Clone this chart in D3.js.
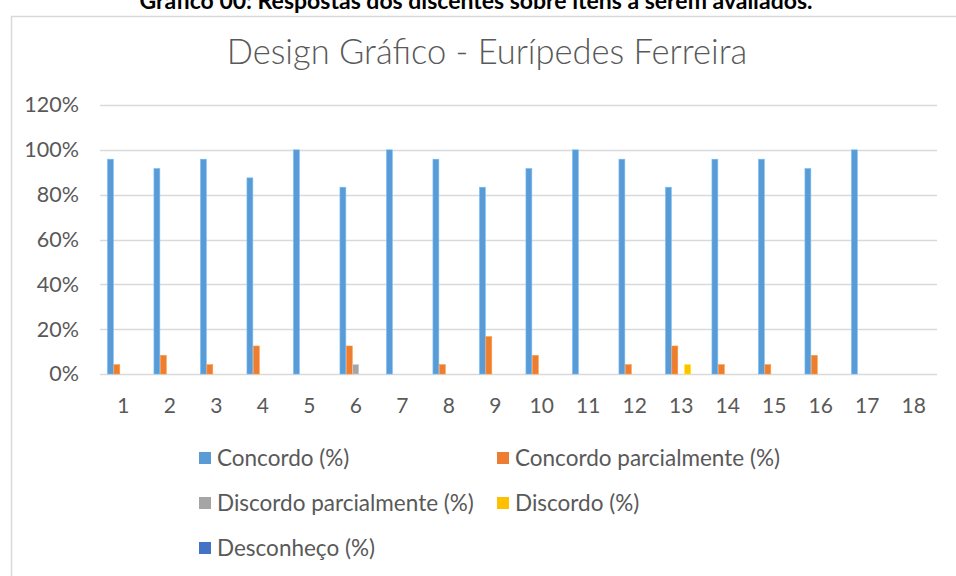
<!DOCTYPE html>
<html>
<head>
<meta charset="utf-8">
<script src="https://cdn.jsdelivr.net/npm/d3@7/dist/d3.min.js"></script>
<style>
  html, body { margin: 0; padding: 0; background: #fff; }
  svg { display: block; font-family: Lato, "Open Sans", sans-serif; }
</style>
</head>
<body>
<svg id="chart" width="956" height="576"></svg>
<script>
// Itens avaliados (1–18)
const items = d3.range(1, 19).map(String);

// Percentual de respostas por item
const concordo = [95.83, 91.67, 95.83, 87.5, 100, 83.33, 100, 95.83, 83.33, 91.67, 100, 95.83, 83.33, 95.83, 95.83, 91.67, 100, 0];
const concordoParcial = [4.17, 8.33, 4.17, 12.5, 0, 12.5, 0, 4.17, 16.67, 8.33, 0, 4.17, 12.5, 4.17, 4.17, 8.33, 0, 0];
const discordoParcial = [0, 0, 0, 0, 0, 4.17, 0, 0, 0, 0, 0, 0, 0, 0, 0, 0, 0, 0];
const discordo = [0, 0, 0, 0, 0, 0, 0, 0, 0, 0, 0, 0, 4.17, 0, 0, 0, 0, 0];
const desconheco = [0, 0, 0, 0, 0, 0, 0, 0, 0, 0, 0, 0, 0, 0, 0, 0, 0, 0];

const seriesNames = ["Concordo (%)", "Concordo parcialmente (%)", "Discordo parcialmente (%)", "Discordo (%)", "Desconheço (%)"];
const seriesValues = [concordo, concordoParcial, discordoParcial, discordo, desconheco];
const seriesColors = ["#5B9BD5", "#ED7D31", "#A5A5A5", "#FFC000", "#4472C4"];

const yTicks = [0, 0.2, 0.4, 0.6, 0.8, 1.0, 1.2];

const svg = d3.select("#chart");

// Legenda da figura, acima da moldura
svg.append("text")
  .attr("x", 476).attr("y", 9)
  .attr("text-anchor", "middle")
  .attr("font-size", 23).attr("font-weight", "bold")
  .attr("fill", "#000")
  .text("Gráfico 00: Respostas dos discentes sobre itens a serem avaliados.");

// Moldura da área do gráfico
svg.append("rect")
  .attr("x", 11.5).attr("y", 16.5)
  .attr("width", 1000).attr("height", 600)
  .attr("fill", "#fff").attr("stroke", "#d9d9d9").attr("stroke-width", 1.5);

// Título
svg.append("text")
  .attr("x", 487).attr("y", 64)
  .attr("text-anchor", "middle")
  .attr("font-size", 34.5).attr("font-weight", 300)
  .attr("fill", "#595959")
  .text("Design Gráfico - Eurípedes Ferreira");

const plot = { left: 100, right: 937, top: 105, bottom: 374 };

const y = d3.scaleLinear().domain([0, 1.2]).range([plot.bottom, plot.top]);
const x0 = d3.scaleBand().domain(items).range([plot.left, plot.right]).padding(0);
const bw = x0.bandwidth();
const x1 = d3.scaleBand().domain(seriesNames).range([bw * 0.16, bw * 0.84]).paddingInner(0.08);

// Linhas de grade horizontais
svg.append("g")
  .selectAll("line")
  .data(yTicks)
  .join("line")
  .attr("x1", plot.left).attr("x2", plot.right)
  .attr("y1", d => Math.round(y(d)) + 0.5).attr("y2", d => Math.round(y(d)) + 0.5)
  .attr("stroke", "#d9d9d9").attr("stroke-width", 1.5);

// Eixo Y
const yAxis = svg.append("g")
  .attr("transform", `translate(${plot.left - 21},0)`)
  .call(d3.axisLeft(y).tickValues(yTicks).tickFormat(d3.format(".0%")).tickSize(0).tickPadding(0));
yAxis.select(".domain").remove();
yAxis.selectAll("text")
  .attr("font-size", 21.5).attr("fill", "#595959")
  .attr("font-family", "Lato, 'Open Sans', sans-serif");

// Eixo X
const xAxis = svg.append("g")
  .attr("transform", `translate(0,${plot.bottom})`)
  .call(d3.axisBottom(x0).tickSize(0).tickPadding(24));
xAxis.select(".domain").remove();
xAxis.selectAll("text")
  .attr("font-size", 21).attr("fill", "#595959")
  .attr("font-family", "Lato, 'Open Sans', sans-serif");

// Barras agrupadas
const groups = svg.append("g")
  .selectAll("g")
  .data(items)
  .join("g")
  .attr("transform", d => `translate(${x0(d)},0)`);

groups.selectAll("rect")
  .data((d, i) => seriesNames.map((s, k) => ({ s, k, v: seriesValues[k][i] / 100 })))
  .join("rect")
  .filter(d => d.v > 0)
  .attr("x", d => x1(d.s))
  .attr("y", d => y(d.v))
  .attr("width", x1.bandwidth())
  .attr("height", d => y(0) - y(d.v))
  .attr("fill", d => seriesColors[d.k])
  .attr("stroke", d => d3.color(seriesColors[d.k]).brighter(0.6))
  .attr("stroke-width", 0.6);

// Legenda
const legendPos = [[199, 458], [497, 458], [199, 503], [497, 503], [199, 548]];
const legend = svg.append("g")
  .selectAll("g")
  .data(seriesNames)
  .join("g")
  .attr("transform", (d, i) => `translate(${legendPos[i][0]},${legendPos[i][1]})`);
legend.append("rect")
  .attr("x", 0).attr("y", -6)
  .attr("width", 12).attr("height", 12)
  .attr("fill", (d, i) => seriesColors[i]);
legend.append("text")
  .attr("x", 18).attr("y", 0)
  .attr("dy", "0.35em")
  .attr("font-size", 22.5).attr("fill", "#595959")
  .text(d => d);
</script>
</body>
</html>
